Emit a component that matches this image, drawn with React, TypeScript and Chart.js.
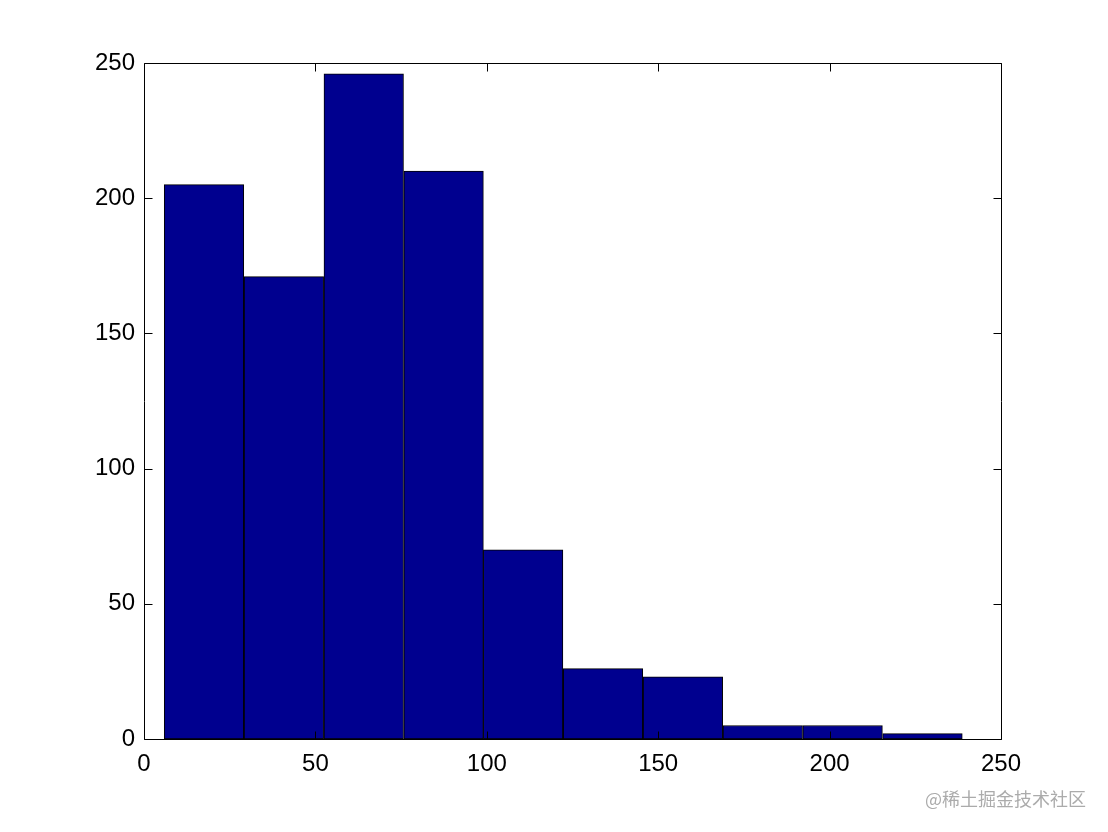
import React, { useEffect, useRef } from "react";
import { Chart, registerables } from "chart.js";

Chart.register(...registerables);

// Histogram bins (centres) and counts
const binCenters = [17.5, 40.8, 64.1, 87.4, 110.6, 133.9, 157.2, 180.5, 203.8, 227.1];
const binCounts = [205, 171, 246, 210, 70, 26, 23, 5, 5, 2];
const xTickValues = [0, 50, 100, 150, 200, 250];
const yTickValues = [0, 50, 100, 150, 200, 250];
const watermark = "@稀土掘金技术社区";

const TICK_LEN = 8;

const framePlugin = {
  id: "matlabFrame",
  afterDatasetsDraw(chart: any) {
    const { ctx, chartArea, scales } = chart;
    const L = Math.round(chartArea.left) + 0.5;
    const R = Math.round(chartArea.right) + 0.5;
    const T = Math.round(chartArea.top) + 0.5;
    const B = Math.round(chartArea.bottom) + 0.5;
    ctx.save();
    ctx.strokeStyle = "#000";
    ctx.lineWidth = 1;
    ctx.beginPath();
    ctx.rect(L, T, R - L, B - T);
    for (const v of xTickValues) {
      const px = Math.round(scales.x.getPixelForValue(v)) + 0.5;
      ctx.moveTo(px, B);
      ctx.lineTo(px, B - TICK_LEN);
      ctx.moveTo(px, T);
      ctx.lineTo(px, T + TICK_LEN);
    }
    for (const v of yTickValues) {
      const py = Math.round(scales.y.getPixelForValue(v)) + 0.5;
      ctx.moveTo(L, py);
      ctx.lineTo(L + TICK_LEN, py);
      ctx.moveTo(R, py);
      ctx.lineTo(R - TICK_LEN, py);
    }
    ctx.stroke();
    ctx.restore();
  },
};

export default function App() {
  const ref = useRef<HTMLCanvasElement | null>(null);

  useEffect(() => {
    if (!ref.current) return;
    const font = { family: "'Liberation Sans', Arial, Helvetica, sans-serif", size: 24 };
    const chart = new Chart(ref.current, {
      type: "bar",
      data: {
        datasets: [
          {
            data: binCenters.map((x, i) => ({ x, y: binCounts[i] })),
            backgroundColor: "#00008F",
            borderColor: "#000000",
            borderWidth: 1,
            borderSkipped: false,
            barPercentage: 1,
            categoryPercentage: 1,
          },
        ],
      },
      options: {
        responsive: false,
        animation: false,
        devicePixelRatio: 1,
        layout: { padding: { left: 0, top: 63, right: 107, bottom: 0 } },
        plugins: { legend: { display: false }, tooltip: { enabled: false } },
        scales: {
          x: {
            type: "linear",
            offset: false,
            min: 0,
            max: 250,
            afterBuildTicks: (s: any) => {
              s.ticks = xTickValues.map((v) => ({ value: v }));
            },
            afterFit: (s: any) => {
              s.height = 93;
            },
            grid: { display: false, drawTicks: false, offset: false },
            border: { display: false },
            ticks: { color: "#000", font, padding: 11, maxRotation: 0 },
          },
          y: {
            type: "linear",
            min: 0,
            max: 250,
            afterBuildTicks: (s: any) => {
              s.ticks = yTickValues.map((v) => ({ value: v }));
            },
            afterFit: (s: any) => {
              s.width = 144;
            },
            grid: { display: false, drawTicks: false },
            border: { display: false },
            ticks: { color: "#000", font, padding: 9 },
          },
        },
      },
      plugins: [framePlugin],
    } as any);
    return () => chart.destroy();
  }, []);

  return (
    <div style={{ position: "fixed", left: 0, top: 0, width: 1108, height: 832, background: "#fff" }}>
      <canvas ref={ref} width={1108} height={832} style={{ width: 1108, height: 832 }} />
      <div
        style={{
          position: "absolute",
          left: 925,
          top: 786,
          fontFamily: "'Noto Sans CJK SC', sans-serif",
          fontSize: 18,
          color: "#ababab",
          whiteSpace: "nowrap",
          lineHeight: "24px",
        }}
      >
        {watermark}
      </div>
    </div>
  );
}
